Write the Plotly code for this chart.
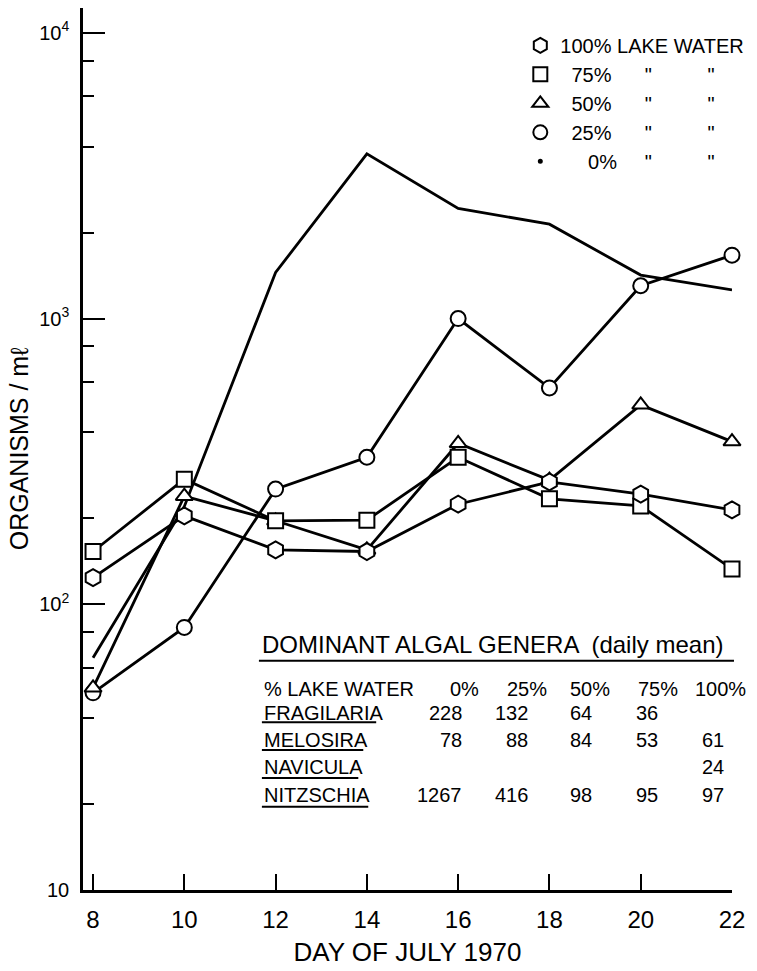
import plotly.graph_objects as go

# ---------------- data ----------------
days = [8, 10, 12, 14, 16, 18, 20, 22]
lake_100 = [124, 204, 155, 153, 224, 268, 243, 214]
lake_75 = [153, 274, 196, 197, 327, 234, 221, 133]
lake_50 = [51, 239, 196, 155, 366, 272, 499, 371]
lake_25 = [49, 83, 253, 327, 1000, 572, 1303, 1667]
lake_0 = [65, 220, 1450, 3770, 2430, 2140, 1420, 1260]

x_tick_vals = [8, 10, 12, 14, 16, 18, 20, 22]
y_tick_vals = [10, 100, 1000, 10000]
y_tick_text = ["10", "10<sup>2</sup>", "10<sup>3</sup>", "10<sup>4</sup>"]
y_minor_vals = [20, 40, 60, 80, 200, 400, 600, 800, 2000, 4000, 6000, 8000]

legend_pcts = ["100%", "75%", "50%", "25%", "0%"]

table_title = "DOMINANT ALGAL GENERA  (daily mean)"
table_row_header = "% LAKE WATER"
table_cols = ["0%", "25%", "50%", "75%", "100%"]
genera = ["FRAGILARIA", "MELOSIRA", "NAVICULA", "NITZSCHIA"]
genera_counts = [
    [228, 132, 64, 36, None],
    [78, 88, 84, 53, 61],
    [None, None, None, None, 24],
    [1267, 416, 98, 95, 97],
]

# ---------------- layout helpers ----------------
W, H = 757, 971
L, R, T, B = 83, 736, 8, 897
FONT = "Liberation Sans, Arial, sans-serif"


def px(x):
    return (x - L) / (R - L)


def py(y):
    return (B - y) / (B - T)


NB = "\u00a0"

fig = go.Figure()

series = [
    (lake_0, None, 0),
    (lake_25, "circle", 15),
    (lake_50, "triangle-up", 15),
    (lake_75, "square", 15),
    (lake_100, "hexagon", 17),
]
for vals, sym, size in series:
    if sym is None:
        fig.add_trace(go.Scatter(x=days, y=vals, mode="lines", cliponaxis=False,
                                 line=dict(color="black", width=2.8),
                                 showlegend=False, hoverinfo="skip"))
    else:
        fig.add_trace(go.Scatter(x=days, y=vals, mode="lines+markers", cliponaxis=False,
                                 line=dict(color="black", width=2.8),
                                 marker=dict(symbol=sym, size=size, color="white",
                                             line=dict(color="black", width=2)),
                                 showlegend=False, hoverinfo="skip"))

# legend entries (marker only)
legend_syms = [("hexagon", 15), ("square", 14), ("triangle-up", 14), ("circle", 14), ("circle", 3)]
ditto = NB * 6 + '"' + NB * 10 + '"'
legend_names = [
    legend_pcts[0] + " LAKE WATER",
    NB * 2 + legend_pcts[1] + ditto,
    NB * 2 + legend_pcts[2] + ditto,
    NB * 2 + legend_pcts[3] + ditto,
    NB * 5 + legend_pcts[4] + NB * 5 + '"' + NB * 10 + '"',
]
for (sym, size), name in zip(legend_syms, legend_names):
    filled = size <= 5
    fig.add_trace(go.Scatter(x=[None], y=[None], mode="markers", name=name,
                             marker=dict(symbol=sym, size=size,
                                         color="black" if filled else "white",
                                         line=dict(color="black", width=2))))

annotations = []
shapes = []

# table title + underline
annotations.append(dict(text=table_title, x=px(261), y=py(650), xref="paper", yref="paper",
                        xanchor="left", yanchor="middle", showarrow=False,
                        font=dict(size=24, family=FONT, color="black")))
shapes.append(dict(type="line", xref="paper", yref="paper", x0=px(260), x1=px(738),
                   y0=py(666), y1=py(666), line=dict(color="black", width=2)))

annotations.append(dict(text=table_row_header, x=px(263), y=py(694), xref="paper", yref="paper",
                        xanchor="left", yanchor="middle", showarrow=False,
                        font=dict(size=20, family=FONT, color="black")))
col_head_x = [467, 530, 593, 662, 724]
col_val_x = [466, 533, 597, 664, 730]
for c, cx in zip(table_cols, col_head_x):
    annotations.append(dict(text=c, x=px(cx), y=py(694), xref="paper", yref="paper",
                            xanchor="center", yanchor="middle", showarrow=False,
                            font=dict(size=20, family=FONT, color="black")))
row_y = [719, 746, 773, 801]
under_y = [728, 756, 784, 813]
under_len = [115, 102, 97, 107]
for g, vals, ry, uy, ul in zip(genera, genera_counts, row_y, under_y, under_len):
    annotations.append(dict(text=g, x=px(263), y=py(ry), xref="paper", yref="paper",
                            xanchor="left", yanchor="middle", showarrow=False,
                            font=dict(size=20, family=FONT, color="black")))
    shapes.append(dict(type="line", xref="paper", yref="paper", x0=px(263), x1=px(263 + ul),
                       y0=py(uy), y1=py(uy), line=dict(color="black", width=2)))
    for v, vx in zip(vals, col_val_x):
        if v is None:
            continue
        annotations.append(dict(text=str(v), x=px(vx), y=py(ry), xref="paper", yref="paper",
                                xanchor="right", yanchor="middle", showarrow=False,
                                font=dict(size=20, family=FONT, color="black")))

fig.update_layout(
    width=W, height=H,
    margin=dict(l=L, r=W - R, t=T, b=H - B),
    plot_bgcolor="white", paper_bgcolor="white",
    font=dict(family=FONT, color="black"),
    showlegend=True,
    legend=dict(x=px(523), y=py(26), xanchor="left", yanchor="top",
                bgcolor="rgba(0,0,0,0)", font=dict(size=20, family=FONT, color="black"),
                traceorder="normal", itemclick=False, itemdoubleclick=False),
    annotations=annotations,
    shapes=shapes,
    xaxis=dict(range=[7.78, 22], showline=True, linecolor="black", linewidth=2.5,
               ticks="inside", ticklen=16, tickwidth=2, tickcolor="black",
               tickvals=x_tick_vals, tickfont=dict(size=24, family=FONT),
               ticklabelstandoff=6,
               showgrid=False, zeroline=False,
               title=dict(text="DAY OF JULY 1970", font=dict(size=26, family=FONT), standoff=12)),
    yaxis=dict(type="log", range=[1, 4.087], showline=True, linecolor="black", linewidth=2.5,
               ticks="inside", ticklen=22, tickwidth=2, tickcolor="black",
               tickvals=y_tick_vals, ticktext=y_tick_text, tickfont=dict(size=20, family=FONT),
               ticklabelstandoff=7,
               minor=dict(tickvals=y_minor_vals, ticks="inside", ticklen=11, tickwidth=2,
                          tickcolor="black", showgrid=False),
               showgrid=False, zeroline=False,
               title=dict(text="ORGANISMS / mℓ", font=dict(size=25, family=FONT), standoff=4)),
)

fig.write_html("out.html")
